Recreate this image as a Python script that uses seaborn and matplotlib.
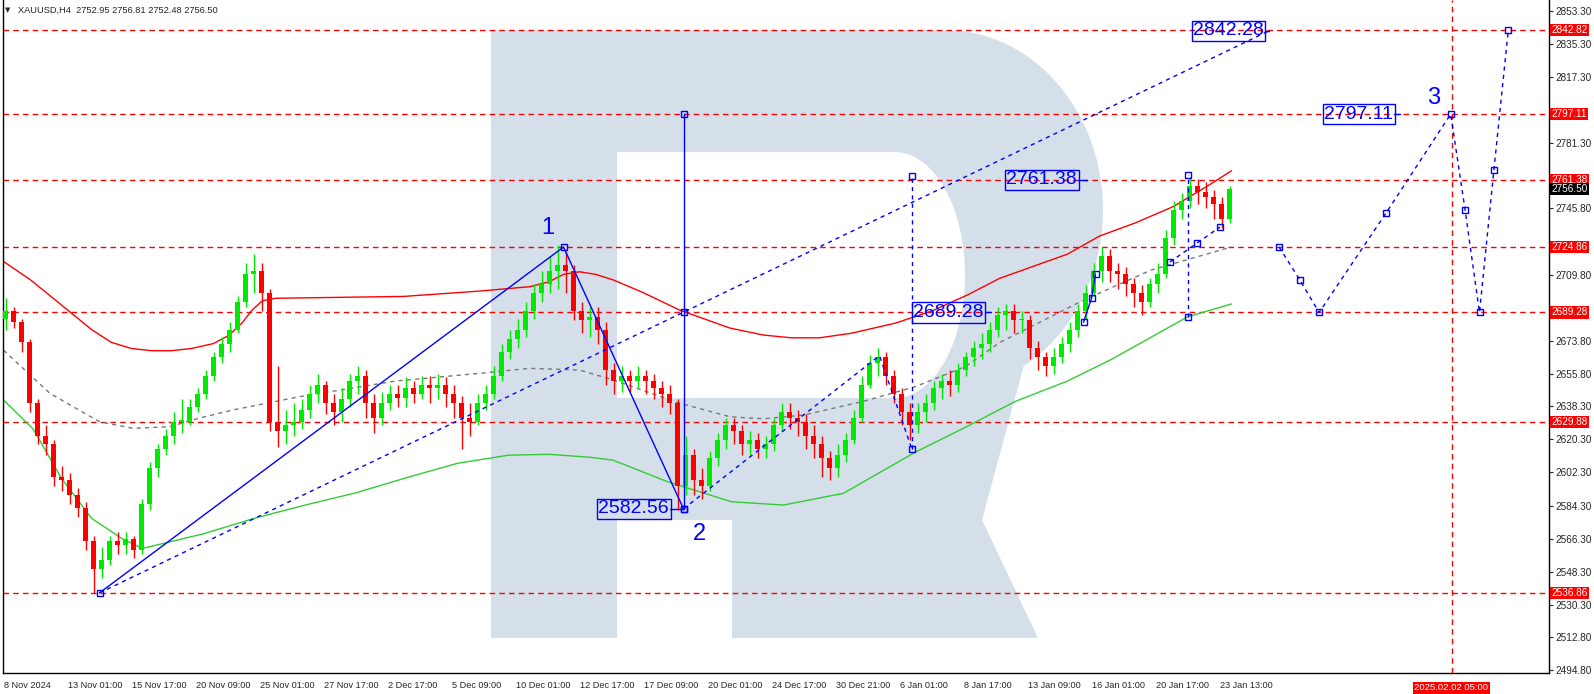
import numpy as np
import pandas as pd
import matplotlib
matplotlib.use('Agg')
import matplotlib.pyplot as plt
import matplotlib.transforms as mtransforms
from matplotlib.patches import Polygon
import seaborn as sns

# --- data (2 H4 bars per candle) ---
first_open = 2686
closes = [2690, 2684, 2673, 2640, 2622, 2618, 2600, 2598, 2590, 2583,
          2565, 2550, 2555, 2565, 2563, 2566, 2560, 2585, 2605, 2615,
          2622, 2630, 2630, 2638, 2645, 2655, 2665, 2672, 2680, 2695,
          2710, 2712, 2700, 2630, 2625, 2628, 2630, 2636, 2645, 2650,
          2640, 2635, 2642, 2652, 2655, 2640, 2632, 2640, 2645, 2643,
          2648, 2645, 2650, 2648, 2650, 2645, 2640, 2632, 2630, 2640,
          2645, 2655, 2668, 2675, 2680, 2690, 2700, 2705, 2712, 2715,
          2712, 2690, 2685, 2687, 2680, 2658, 2652, 2655, 2652, 2655,
          2652, 2648, 2645, 2640, 2595, 2612, 2598, 2595, 2610, 2620,
          2628, 2625, 2618, 2620, 2615, 2618, 2628, 2635, 2632, 2630,
          2622, 2618, 2610, 2605, 2612, 2620, 2632, 2650, 2662, 2665,
          2655, 2645, 2635, 2628, 2635, 2640, 2648, 2652, 2650, 2658,
          2665, 2670, 2672, 2680, 2688, 2690, 2685, 2685, 2670, 2665,
          2660, 2665, 2672, 2680, 2690, 2700, 2712, 2720, 2712, 2710,
          2705, 2700, 2695, 2705, 2710, 2730, 2745, 2750, 2758, 2755,
          2752, 2748, 2740, 2756.5]
highs = [2697, 2692, 2686, 2675, 2642, 2628, 2620, 2606, 2602, 2594,
         2586, 2568, 2562, 2568, 2570, 2570, 2568, 2588, 2608, 2618,
         2626, 2635, 2642, 2642, 2648, 2658, 2668, 2676, 2684, 2698,
         2716, 2721, 2716, 2702, 2660, 2636, 2640, 2642, 2650, 2656,
         2652, 2645, 2648, 2656, 2660, 2658, 2645, 2646, 2650, 2650,
         2654, 2652, 2655, 2655, 2656, 2654, 2650, 2644, 2640, 2645,
         2650, 2660, 2672, 2680, 2686, 2695, 2705, 2712, 2720, 2726,
         2722, 2715, 2695, 2692, 2692, 2684, 2662, 2660, 2658, 2660,
         2658, 2656, 2652, 2650, 2642, 2622, 2615, 2605, 2614, 2624,
         2632, 2632, 2628, 2625, 2624, 2622, 2632, 2640, 2640, 2636,
         2634, 2628, 2622, 2614, 2618, 2624, 2636, 2655, 2666, 2670,
         2668, 2658, 2648, 2640, 2640, 2645, 2652, 2656, 2658, 2662,
         2668, 2674, 2678, 2684, 2692, 2694, 2694, 2690, 2688, 2674,
         2668, 2670, 2676, 2684, 2694, 2704, 2716, 2725, 2724, 2716,
         2714, 2708, 2704, 2708, 2716, 2734, 2750, 2754, 2763, 2762,
         2760, 2756, 2752, 2758]
lows = [2680, 2681, 2668, 2635, 2618, 2612, 2595, 2592, 2585, 2578,
        2560, 2537, 2545, 2552, 2558, 2558, 2556, 2558, 2582, 2600,
        2612, 2618, 2624, 2628, 2635, 2642, 2652, 2662, 2668, 2678,
        2692, 2700, 2690, 2625, 2616, 2618, 2622, 2626, 2632, 2640,
        2634, 2628, 2630, 2638, 2645, 2632, 2624, 2628, 2636, 2638,
        2638, 2640, 2642, 2640, 2642, 2638, 2632, 2615, 2622, 2628,
        2636, 2642, 2652, 2664, 2670, 2676, 2686, 2695, 2700, 2702,
        2700, 2685, 2678, 2676, 2672, 2650, 2645, 2646, 2646, 2648,
        2645, 2642, 2638, 2634, 2582, 2590, 2590, 2588, 2592, 2606,
        2615, 2618, 2612, 2612, 2610, 2610, 2614, 2625, 2626, 2622,
        2615, 2610, 2600, 2598, 2600, 2608, 2618, 2630, 2648, 2655,
        2650, 2640, 2628, 2620, 2624, 2630, 2636, 2642, 2644, 2646,
        2655, 2660, 2664, 2668, 2676, 2680, 2678, 2678, 2664, 2658,
        2655, 2656, 2662, 2668, 2676, 2686, 2698, 2706, 2706, 2702,
        2698, 2692, 2688, 2692, 2700, 2708, 2726, 2740, 2746, 2748,
        2746, 2740, 2735, 2738]

# moving averages (bar index, price)
red_ma_x = [0, 6.75, 14.4, 22, 27, 32, 37, 42, 47, 52.5, 56.3, 59.6, 62.2, 64.7, 68, 100, 119,
            131.6, 136.4, 140, 144, 148, 152.4, 160, 169, 181.6, 190, 197, 204, 212, 223, 232,
            241, 249, 257, 266, 274, 283, 292.4, 296, 301, 307]
red_ma_y = [2717, 2707, 2693.5, 2680, 2673, 2669.7, 2668.5, 2668.5, 2669.7, 2672.4, 2676.8, 2683.5,
            2690.7, 2695.6, 2697, 2698, 2700.9, 2703.3, 2706, 2710, 2711.4, 2710, 2707, 2700, 2690.6,
            2680.8, 2677, 2675.5, 2675.5, 2678, 2683.5, 2690, 2698.8, 2707.8, 2714, 2721, 2730.8,
            2738, 2746.8, 2751.5, 2758, 2766.3]
grey_ma_x = [0, 11.6, 24, 32.4, 41.6, 49, 57.4, 74, 98, 119, 131.6, 144, 152.4, 169, 181.6, 190,
             200, 215, 228, 240.6, 249, 260, 270, 287, 307]
grey_ma_y = [2668.8, 2645.3, 2629.9, 2626.3, 2627.2, 2631.9, 2636.3, 2643.5, 2652, 2656.2, 2658.9,
             2658, 2652.6, 2640, 2632.6, 2631.5, 2633.5, 2641, 2649, 2660, 2672.9, 2685, 2696,
             2712.4, 2724.9]
green_ma_x = [0, 7.4, 14.4, 22, 29.6, 34.7, 50, 62.7, 75.4, 88, 100.8, 113.5, 126.2, 136.4, 146.5,
              152.4, 166, 182, 195, 210, 228, 240.6, 253, 266, 277, 296, 307]
green_ma_y = [2641.7, 2626, 2599.5, 2577.4, 2566.4, 2561, 2569, 2577.4, 2584.6, 2591.2, 2599.5,
              2607.3, 2611.7, 2612.2, 2610.6, 2609, 2597.3, 2586.4, 2584.6, 2591, 2613.4, 2627,
              2641, 2652, 2663.8, 2686.9, 2693.9]

levels = [2842.82, 2797.11, 2761.38, 2724.86, 2689.28, 2629.88, 2536.86]
price_ticks = [2853.30, 2835.30, 2817.30, 2781.30, 2745.80, 2709.80, 2673.80, 2655.80,
               2638.30, 2620.30, 2602.30, 2584.30, 2566.30, 2548.30, 2530.30, 2512.80, 2494.80]
time_idx = [0, 16, 32, 48, 64, 80, 96, 112, 128, 144, 160, 176, 192, 208, 224, 240, 256, 272, 288, 304]
time_labels = ['8 Nov 2024', '13 Nov 01:00', '15 Nov 17:00', '20 Nov 09:00', '25 Nov 01:00',
               '27 Nov 17:00', '2 Dec 17:00', '5 Dec 09:00', '10 Dec 01:00', '12 Dec 17:00',
               '17 Dec 09:00', '20 Dec 01:00', '24 Dec 17:00', '30 Dec 21:00', '6 Jan 01:00',
               '8 Jan 17:00', '13 Jan 09:00', '16 Jan 01:00', '20 Jan 17:00', '23 Jan 13:00']
last_price = 2756.50
future_idx = 362
future_label = '2025.02.02 05:00'

# wave markup
wave_x = [24, 140, 170]
wave_y = [2536.86, 2724.86, 2582.56]
target_x = [24, 316.3]
target_y = [2536.86, 2842.28]
fcst_x = [318.9, 324.1, 328.9, 345.6, 361.8, 365.4, 369, 372.6, 376.2]
fcst_y = [2724.86, 2706.9, 2689.28, 2743.2, 2797.11, 2745, 2689.28, 2766.7, 2842.82]
sub_x = [291.6, 298.4, 304.1]
sub_y = [2716.7, 2727, 2735.7]
box_labels = ['2842.28', '2797.11', '2761.38', '2689.28', '2582.56']
box_x = [315.1, 347.4, 268.4, 245.1, 166.4]
box_end = [316.3, 349.1, 270.9, 246.9, 170]
box_y = [2842.28, 2797.11, 2761.38, 2689.28, 2582.56]
wave_num = ['1', '2', '3']
wave_num_x = [136, 174, 357.5]
wave_num_y = [2735, 2569, 2806]

W, H = 1594, 694
sns.set_style('white')
plt.rcParams['font.family'] = ['Liberation Sans', 'DejaVu Sans']

fig = plt.figure(figsize=(W / 100, H / 100), dpi=100)
fig.patch.set_facecolor('white')

# watermark logo drawn in pixel space
lg = fig.add_axes([0, 0, 1, 1], zorder=0)
lg.set_xlim(0, W)
lg.set_ylim(H, 0)
lg.axis('off')
logo_c = '#d5dfea'
a_up = np.linspace(np.pi / 2, 0, 30)
a_dn = np.linspace(0, -1.05, 25)
outer = [(491, 638), (491, 30)] + \
        [(945 + 158 * np.cos(a), 210 - 180 * np.sin(a)) for a in a_up] + \
        [(945 + 158 * np.cos(a), 210 - 180 * np.sin(a)) for a in a_dn] + \
        [(982, 520), (617, 520), (617, 638)]
lg.add_patch(Polygon(outer, closed=True, fc=logo_c, ec='none'))
a_in = np.linspace(np.pi / 2, -np.pi / 2, 40)
inner = [(617, 152), (895, 152)] + \
        [(895 + 70 * np.cos(a), 275 - 123 * np.sin(a)) for a in a_in] + [(617, 398)]
lg.add_patch(Polygon(inner, closed=True, fc='white', ec='none'))
lg.add_patch(Polygon([(732, 520), (982, 520), (1038, 638), (732, 638)], closed=True, fc=logo_c, ec='none'))

ax = fig.add_axes([2.5 / W, 21 / H, 1546.2 / W, 673 / H], zorder=1)
ax.set_facecolor('none')
ax.set_xlim(-0.25, 386.3)
ax.set_ylim(2493.32, 2859.12)

opens = [first_open] + closes[:-1]
df = pd.DataFrame({'o': opens, 'c': closes, 'h': highs, 'l': lows})
df['x'] = np.arange(len(df)) * 2 + 0.5
up = df['c'] >= df['o']
cols = np.where(up, '#00ea00', '#ff0000')
ax.vlines(df['x'], df['l'], df['h'], colors=cols, linewidth=1, zorder=3)
body = (df['c'] - df['o']).abs().clip(lower=0.6)
ax.bar(df['x'], body, bottom=df[['o', 'c']].min(axis=1), width=1.4, color=cols, zorder=3, linewidth=0)

sns.lineplot(x=red_ma_x, y=red_ma_y, ax=ax, color='#ff0000', linewidth=1, zorder=2)
sns.lineplot(x=grey_ma_x, y=grey_ma_y, ax=ax, color='#777777', linewidth=1, linestyle=(0, (3, 3)), zorder=2)
sns.lineplot(x=green_ma_x, y=green_ma_y, ax=ax, color='#33cc33', linewidth=1, zorder=2)

for lv in levels:
    ax.axhline(lv, color='#ff0000', linewidth=1, linestyle=(0, (4, 3)), zorder=1)
ax.axvline(future_idx, color='#ff0000', linewidth=1, linestyle=(0, (4, 3)), zorder=1)

blue = '#0000ff'
dash = (0, (3, 3))
mk = dict(marker='s', markersize=5, markerfacecolor='none', markeredgecolor=blue, markeredgewidth=1)
ax.plot(wave_x, wave_y, color=blue, linewidth=1, zorder=4, **mk)
ax.plot(target_x, target_y, color=blue, linewidth=1, linestyle=dash, zorder=4)
ax.plot([170, 170, 170], [2582.56, 2689.7, 2797.11], color=blue, linewidth=1, zorder=4, **mk)
ax.plot(fcst_x, fcst_y, color=blue, linewidth=1, linestyle=dash, zorder=4, **mk)
ax.plot([227.1, 227.1], [2615, 2763.6], color=blue, linewidth=1, linestyle=dash, zorder=4, **mk)
ax.plot([170, 219, 227.1], [2582.56, 2665.8, 2615], color=blue, linewidth=1, linestyle=dash, zorder=4)
ax.plot([296, 296], [2687, 2764], color=blue, linewidth=1, linestyle=dash, zorder=4, **mk)
ax.plot(sub_x, sub_y, color=blue, linewidth=1, linestyle=dash, zorder=4, **mk)
ax.plot([270, 272, 273], [2684, 2697, 2710], color=blue, linewidth=1, zorder=4, **mk)

for lab, bx, be, by in zip(box_labels, box_x, box_end, box_y):
    ax.text(bx, by, lab, ha='right', va='center', color=blue, fontsize=14, zorder=6,
            bbox=dict(boxstyle='square,pad=0.08', fc='none', ec=blue, lw=1))
    ax.plot([bx + 0.3, be], [by, by], color=blue, linewidth=1, zorder=6)
for lab, wx, wy in zip(wave_num, wave_num_x, wave_num_y):
    ax.text(wx, wy, lab, color=blue, fontsize=17, ha='center', va='center', zorder=6)

# axes styling
ax.spines['top'].set_visible(False)
for s in ['left', 'right', 'bottom']:
    ax.spines[s].set_color('black')
    ax.spines[s].set_linewidth(1)
ax.yaxis.tick_right()
ax.set_yticks(price_ticks)
ax.set_yticklabels([f'{p:.2f}' for p in price_ticks])
ax.tick_params(axis='y', direction='out', length=3, labelsize=7.2, pad=2, right=True, left=False)
ax.set_xticks(time_idx)
ax.set_xticklabels(time_labels, ha='left')
ax.tick_params(axis='x', direction='out', length=4, labelsize=6.6, pad=2)
for lbl in ax.get_xticklabels():
    lbl.set_transform(lbl.get_transform() + mtransforms.ScaledTranslation(1 / 100, 0, fig.dpi_scale_trans))
ax.set_xlabel('')
ax.set_ylabel('')

tr = mtransforms.blended_transform_factory(ax.transAxes, ax.transData)
for lv in levels:
    ax.text(1.0019, lv, f'{lv:.2f}', transform=tr, ha='left', va='center', color='white',
            fontsize=7.2, zorder=7, bbox=dict(boxstyle='square,pad=0.12', fc='#ff0000', ec='none'))
ax.text(1.0019, last_price, f'{last_price:.2f}', transform=tr, ha='left', va='center', color='white',
        fontsize=7.2, zorder=7, bbox=dict(boxstyle='square,pad=0.12', fc='black', ec='none'))
trx = mtransforms.blended_transform_factory(ax.transData, ax.transAxes)
ax.text(future_idx - 9.3, -0.015, future_label, transform=trx, ha='left', va='top', color='white',
        fontsize=6.8, bbox=dict(boxstyle='square,pad=0.15', fc='#ff0000', ec='none'), zorder=7)

fig.text(5 / W, 1 - 10 / H, '\u25bc', fontsize=5, va='center', ha='left', family='DejaVu Sans')
fig.text(18 / W, 1 - 10 / H, 'XAUUSD,H4  2752.95 2756.81 2752.48 2756.50', fontsize=6.7, va='center', ha='left')

fig.savefig('out.png', dpi=100)
